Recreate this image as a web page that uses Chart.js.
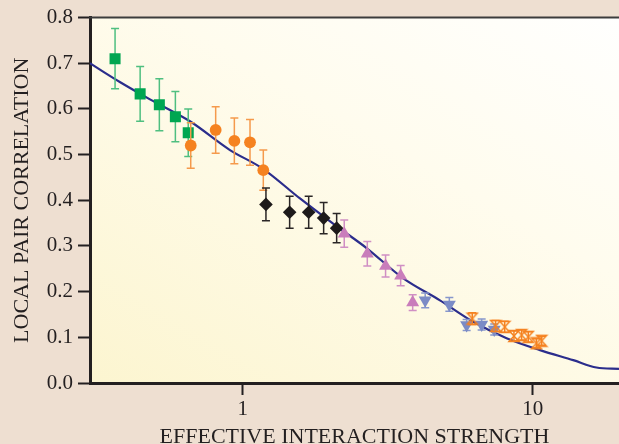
<!DOCTYPE html>
<html><head><meta charset="utf-8">
<script src="https://cdn.jsdelivr.net/npm/chart.js@4/dist/chart.umd.min.js"></script>
<style>html,body{margin:0;padding:0;background:#eedfd1;overflow:hidden}#wrap{width:619px;height:444px;position:relative}</style>
</head><body><div id="wrap"><canvas id="c" width="619" height="444"></canvas></div>
<script>
// ---- data ----
const xTickValues = [1, 10];
const yTickValues = [0, 0.1, 0.2, 0.3, 0.4, 0.5, 0.6, 0.7, 0.8];

const greenX = [0.363, 0.443, 0.516, 0.586, 0.649];
const greenY = [0.710, 0.633, 0.609, 0.583, 0.548];
const greenErr = [0.066, 0.060, 0.057, 0.055, 0.052];

const circleX = [0.662, 0.807, 0.936, 1.06, 1.178];
const circleY = [0.520, 0.554, 0.530, 0.527, 0.466];
const circleErr = [0.050, 0.051, 0.050, 0.050, 0.044];

const diamondX = [1.203, 1.452, 1.689, 1.902, 2.109];
const diamondY = [0.391, 0.374, 0.374, 0.361, 0.339];
const diamondErr = [0.036, 0.035, 0.035, 0.034, 0.032];

const triUpX = [2.24, 2.69, 3.11, 3.506, 3.857];
const triUpY = [0.327, 0.283, 0.256, 0.235, 0.176];
const triUpErr = [0.030, 0.027, 0.024, 0.022, 0.017];

const triDownX = [4.26, 5.16, 5.92, 6.67, 7.37];
const triDownY = [0.181, 0.172, 0.127, 0.128, 0.117];
const triDownErr = [0.016, 0.015, 0.012, 0.012, 0.012];

const hourX = [6.19, 7.45, 8.01, 8.62, 9.16, 9.66, 10.3, 10.74];
const hourY = [0.141, 0.125, 0.123, 0.103, 0.105, 0.101, 0.087, 0.0925];
const hourErr = [0.013, 0.012, 0.012, 0.011, 0.011, 0.011, 0.010, 0.010];

const curveX = [0.2975, 0.322, 0.377, 0.479, 0.658, 0.904, 1.175, 1.576, 2.11, 2.68, 3.58, 4.79, 6.24, 8.13, 10.6, 13.8, 16.6, 19.85];
const curveY = [0.700, 0.686, 0.659, 0.621, 0.573, 0.510, 0.469, 0.404, 0.343, 0.295, 0.229, 0.181, 0.134, 0.098, 0.072, 0.050, 0.034, 0.031];

// ---- helpers ----
const pts = (xs, ys) => xs.map((x, i) => ({x: x, y: ys[i]}));

const hourglass = document.createElement('canvas');
hourglass.width = 14; hourglass.height = 14;
(function(){
  const g = hourglass.getContext('2d');
  g.strokeStyle = '#f58220'; g.lineWidth = 1.5;
  g.beginPath();
  g.moveTo(2, 1.5); g.lineTo(12, 1.5); g.lineTo(2, 12.5); g.lineTo(12, 12.5); g.closePath();
  g.stroke();
})();

const errorBars = {
  id: 'errorBars',
  beforeDatasetDraw(chart, args) {
    const ds = chart.data.datasets[args.index];
    if (!ds.errors) return;
    const ctx = chart.ctx, xs = chart.scales.x, ys = chart.scales.y;
    const cap = 4;
    ctx.save();
    ctx.strokeStyle = ds.errorColor; ctx.lineWidth = 1.5;
    ds.data.forEach((p, i) => {
      const px = xs.getPixelForValue(p.x);
      const t = ys.getPixelForValue(p.y + ds.errors[i]);
      const b = ys.getPixelForValue(p.y - ds.errors[i]);
      ctx.beginPath();
      ctx.moveTo(px, t); ctx.lineTo(px, b);
      ctx.moveTo(px - cap, t); ctx.lineTo(px + cap, t);
      ctx.moveTo(px - cap, b); ctx.lineTo(px + cap, b);
      ctx.stroke();
    });
    ctx.restore();
  }
};

const bg = {
  id: 'bg',
  beforeDraw(chart) {
    const ctx = chart.ctx, a = chart.chartArea;
    ctx.save();
    ctx.fillStyle = '#eedfd1';
    ctx.fillRect(0, 0, chart.width, chart.height);
    const g = ctx.createLinearGradient(a.left, a.bottom, a.left + 300, a.top - 150);
    g.addColorStop(0, '#fcf5d0');
    g.addColorStop(0.6, '#fffcee');
    g.addColorStop(1, '#ffffff');
    ctx.fillStyle = g;
    ctx.fillRect(a.left, a.top, chart.width - a.left, a.bottom - a.top);
    ctx.restore();
  },
  afterDraw(chart) {
    const ctx = chart.ctx, a = chart.chartArea;
    ctx.save();
    ctx.strokeStyle = '#3c3c3c'; ctx.lineWidth = 2;
    ctx.beginPath(); ctx.moveTo(a.left - 1, a.top); ctx.lineTo(chart.width, a.top); ctx.stroke();
    ctx.restore();
  }
};

const serif = 'Liberation Serif';
const ink = '#231f20';

new Chart(document.getElementById('c'), {
  type: 'scatter',
  data: {
    datasets: [
      {label: 'theory', data: pts(curveX, curveY), showLine: true, borderColor: '#2b2d8c', borderWidth: 2.2,
       pointRadius: 0, cubicInterpolationMode: 'monotone', order: 10},
      {label: 'green', data: pts(greenX, greenY), pointStyle: 'rect', pointRadius: 7.8,
       backgroundColor: '#00a651', borderWidth: 0, errors: greenErr, errorColor: '#4fbf80', order: 5},
      {label: 'circles', data: pts(circleX, circleY), pointStyle: 'circle', pointRadius: 5.9,
       backgroundColor: '#f58220', borderWidth: 0, errors: circleErr, errorColor: '#f59a4c', order: 4},
      {label: 'diamonds', data: pts(diamondX, diamondY), pointStyle: 'rectRot', pointRadius: 6.8,
       backgroundColor: '#1d1a1a', borderWidth: 0, errors: diamondErr, errorColor: '#2a2626', order: 3},
      {label: 'up', data: pts(triUpX, triUpY), pointStyle: 'triangle', pointRadius: 7.5,
       backgroundColor: '#c97dbb', borderWidth: 0, errors: triUpErr, errorColor: '#d08fc4', order: 2},
      {label: 'down', data: pts(triDownX, triDownY), pointStyle: 'triangle', rotation: 180, pointRadius: 7.5,
       backgroundColor: '#7b8bc6', borderWidth: 0, errors: triDownErr, errorColor: '#8797cc', order: 1},
      {label: 'hour', data: pts(hourX, hourY), pointStyle: hourglass, pointRadius: 6,
       errors: hourErr, errorColor: '#f58220', order: 0}
    ]
  },
  options: {
    responsive: false,
    animation: false,
    layout: {autoPadding: false, padding: {top: 17, left: 0, right: 0, bottom: 0}},
    plugins: {legend: {display: false}, tooltip: {enabled: false}},
    scales: {
      x: {
        type: 'logarithmic', min: 0.2975, max: 19.85,
        afterBuildTicks: s => { s.ticks = xTickValues.map(v => ({value: v})); },
        afterFit: s => { s.height = 61; s.paddingLeft = 0; s.paddingRight = 0; },
        grid: {drawOnChartArea: false, drawTicks: true, tickLength: 12, tickWidth: 2, tickColor: ink},
        border: {display: true, color: ink, width: 3},
        ticks: {font: {family: serif, size: 21}, color: ink, padding: 2, maxRotation: 0, autoSkip: false,
                callback: v => String(v)},
        title: {display: true, text: 'EFFECTIVE INTERACTION STRENGTH', font: {family: serif, size: 22},
                color: ink, padding: {top: 0, bottom: -6}}
      },
      y: {
        min: 0, max: 0.8,
        afterBuildTicks: s => { s.ticks = yTickValues.map(v => ({value: v})); },
        afterFit: s => { s.width = 90; },
        grid: {drawOnChartArea: false, drawTicks: true, tickLength: 12, tickWidth: 2, tickColor: ink},
        border: {display: true, color: ink, width: 3},
        ticks: {font: {family: serif, size: 21}, color: ink, padding: 5, callback: v => v.toFixed(1)},
        title: {display: true, text: 'LOCAL PAIR CORRELATION', font: {family: serif, size: 22},
                color: ink, padding: {top: 9, bottom: 0}}
      }
    }
  },
  plugins: [bg, errorBars]
});
</script>
</body></html>
